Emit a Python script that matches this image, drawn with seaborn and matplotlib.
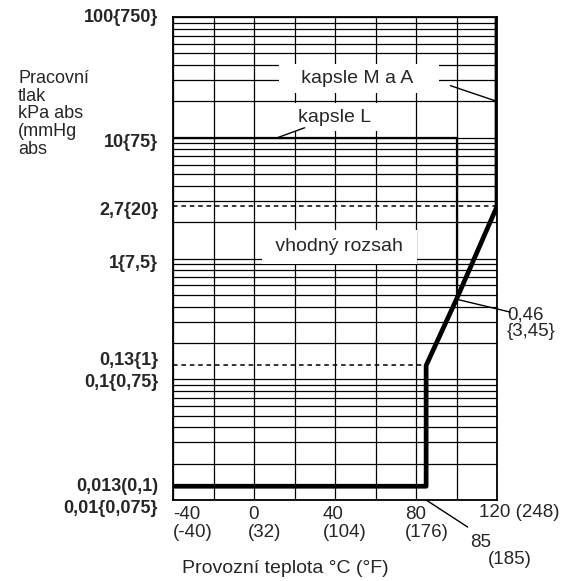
import numpy as np
import matplotlib
matplotlib.use("Agg")
import matplotlib.pyplot as plt
from matplotlib.ticker import LogLocator, NullFormatter, MultipleLocator
import seaborn as sns

# boundary curve (capsules M and A), temperature in C, pressure in kPa abs
curve_temp = [-40, 85, 85, 100, 120, 120]
curve_press = [0.013, 0.013, 0.13, 0.46, 2.7, 100]

# capsule L upper limit
lcap_temp = [-40, 100, 100]
lcap_press = [10, 10, 0.46]

# dashed reference levels and where they stop
dash_press = [2.7, 0.13]
dash_end = [120, 85]

ytick_values = [100, 10, 2.7, 1, 0.13, 0.1, 0.013, 0.01]
ytick_labels = ['100{750}', '10{75}', '2,7{20}', '1{7,5}', '0,13{1}',
                '0,1{0,75}', '0,013(0,1)', '0,01{0,075}']
xtick_values = [-40, 0, 40, 80]
xtick_labels = ['-40\n(-40)', '0\n(32)', '40\n(104)', '80\n(176)']

sns.set_style("white")
plt.rcParams['font.family'] = ['Liberation Sans', 'DejaVu Sans']

fig = plt.figure(figsize=(5.67, 5.81), dpi=100)
ax = fig.add_axes([173 / 567, 1 - 500 / 581, 324 / 567, 483 / 581])
ax.set_yscale('log')
ax.set_xlim(-40, 120)
ax.set_ylim(0.01, 100)

# grid like the printed chart paper
ax.xaxis.set_major_locator(MultipleLocator(20))
ax.yaxis.set_major_locator(LogLocator(base=10))
ax.yaxis.set_minor_locator(LogLocator(base=10, subs=np.arange(2, 10)))
ax.yaxis.set_major_formatter(NullFormatter())
ax.yaxis.set_minor_formatter(NullFormatter())
ax.xaxis.set_major_formatter(NullFormatter())
ax.tick_params(which='both', length=0)
ax.grid(True, which='both', color='black', lw=0.9)
ax.set_axisbelow(True)
for sp in ax.spines.values():
    sp.set_color('black')
    sp.set_linewidth(1.3)

sns.lineplot(x=curve_temp, y=curve_press, sort=False, estimator=None,
             color='black', lw=3.4, ax=ax, zorder=6)
sns.lineplot(x=lcap_temp, y=lcap_press, sort=False, estimator=None,
             color='black', lw=1.6, ax=ax, zorder=5)
for p, xe in zip(dash_press, dash_end):
    ax.plot([-40, xe], [p, p], color='black', lw=1.1, ls=(0, (3, 2.5)), zorder=4)

# y tick labels (small nudges in pixels so the close ones do not collide)
ytr = ax.get_yaxis_transform()
nudge = {10: -5, 2.7: -4, 1: -5, 0.13: 5, 0.1: -3}
for v, lab in zip(ytick_values, ytick_labels):
    ax.annotate(lab, xy=(-0.046, v), xycoords=ytr,
                xytext=(0, nudge.get(v, 0) * 0.72), textcoords='offset points',
                ha='right', va='top' if v == 0.01 else 'center',
                fontsize=13, fontweight='bold')

# x tick labels
xtr = ax.get_xaxis_transform()
x_off = [0, -6, -12, -11]
for v, lab, off in zip(xtick_values, xtick_labels, x_off):
    ax.annotate(lab, xy=(v, -0.012), xycoords=xtr, xytext=(off * 0.72, 0),
                textcoords='offset points', ha='left', va='top',
                fontsize=13.5, linespacing=1.1)
ax.text(111, -0.025, '120 (248)', transform=xtr, ha='left', va='center', fontsize=13.5)

# 85 (185) callout
ax.plot([85, 105.5], [0, -0.056], transform=xtr, color='black', lw=1, clip_on=False)
ax.text(106.5, -0.087, '85', transform=xtr, ha='left', va='center', fontsize=13.5)
ax.text(115.5, -0.124, '(185)', transform=xtr, ha='left', va='center', fontsize=13.5)

ax.text(-35.5, -0.141, 'Provozní teplota °C (°F)', transform=xtr,
        ha='left', va='center', fontsize=14)

fig.text(18 / 567, 1 - 70 / 581, 'Pracovní\ntlak\nkPa abs\n(mmHg\nabs',
         ha='left', va='top', fontsize=13, linespacing=1.05)

# annotations inside the grid
box = dict(facecolor='white', edgecolor='none', pad=4)
ax.text(52, 31, '   kapsle M a A    ', ha='center', va='center', fontsize=14,
        bbox=box, zorder=3)
ax.plot([97, 120], [27, 20], color='black', lw=1, zorder=4)
ax.text(46, 14.8, 'kapsle L     ', ha='center', va='center', fontsize=14,
        bbox=box, zorder=3)
ax.plot([25, 11.5], [12.1, 10], color='black', lw=1, zorder=4)
ax.text(42, 1.25, ' vhodný rozsah ', ha='center', va='center', fontsize=14,
        bbox=dict(facecolor='white', edgecolor='none', pad=6), zorder=3)

ax.plot([100, 126.5], [0.46, 0.36], color='black', lw=1, clip_on=False, zorder=4)
ax.text(125, 0.29, '0,46\n{3,45}', ha='left', va='center', fontsize=13.5,
        linespacing=1.0)

fig.savefig('out.png', dpi=100)
